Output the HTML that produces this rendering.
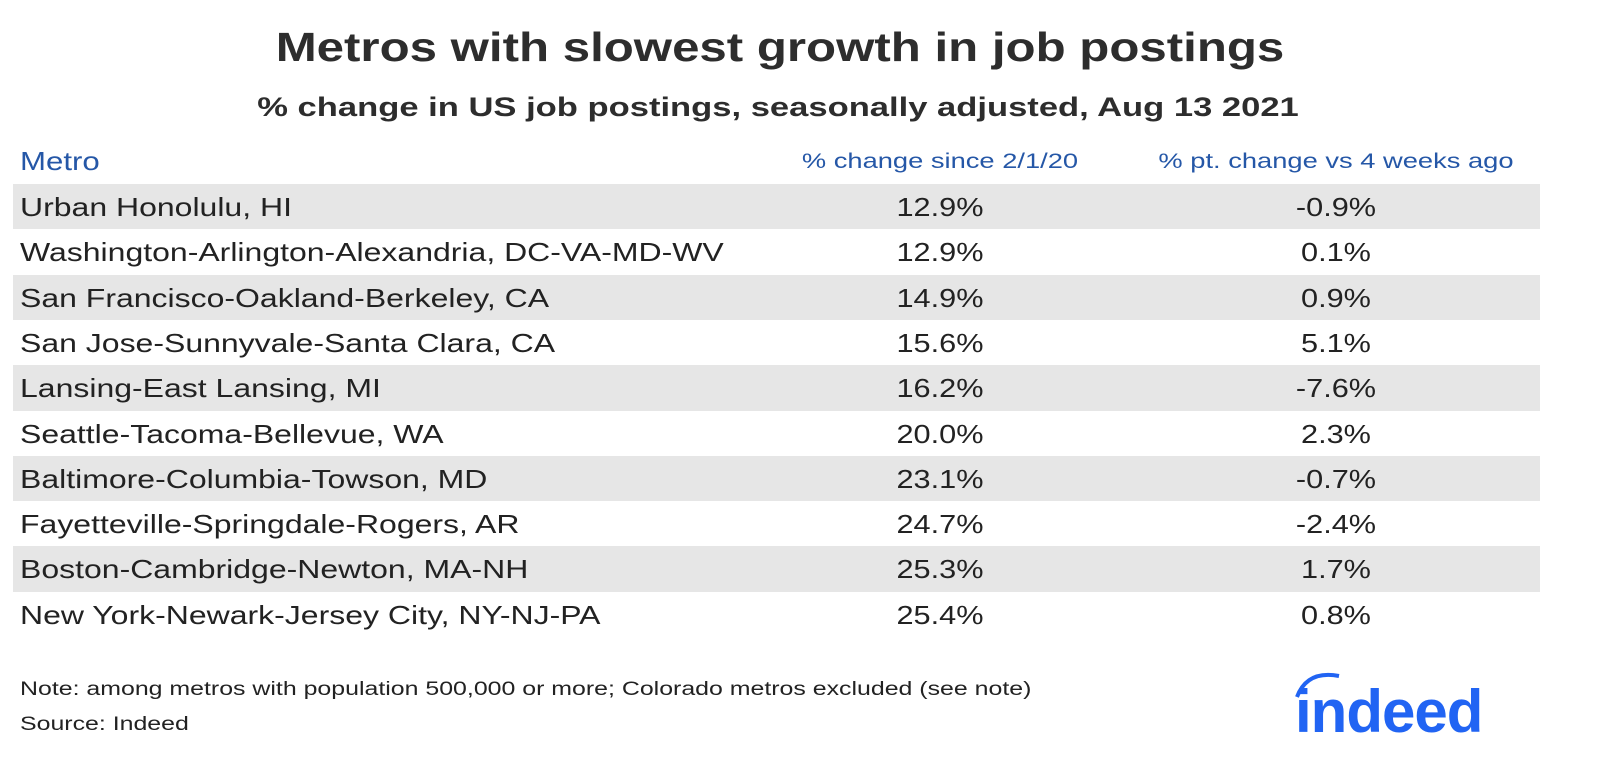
<!DOCTYPE html>
<html><head><meta charset="utf-8"><style>
body{margin:0;width:1600px;height:765px;background:#fff;font-family:"Liberation Sans",sans-serif;color:#222;position:relative;overflow:hidden}
.a{position:absolute;white-space:nowrap}
#title{left:-20px;width:1600px;text-align:center;top:24px;font-size:41px;font-weight:bold;color:#2d2d2d;transform:scaleX(1.2);transform-origin:800px 0}
#sub{left:-22px;width:1600px;text-align:center;top:92px;font-size:27px;font-weight:bold;color:#2d2d2d;transform:scaleX(1.28);transform-origin:800px 0}
.h{top:146px;color:#2557a7}
.row{position:absolute;left:13px;width:1527px;height:45.5px}
.c{position:absolute;top:8px;font-size:26px;white-space:nowrap}
.note{font-size:19px;color:#222;transform:scaleX(1.31);transform-origin:0 0}
</style></head><body>
<div class="a" id="title">Metros with slowest growth in job postings</div>
<div class="a" id="sub">% change in US job postings, seasonally adjusted, Aug 13 2021</div>
<div class="a h" style="left:20px;font-size:26px;transform:scaleX(1.2);transform-origin:0 0">Metro</div>
<div class="a h" style="left:800px;width:280px;text-align:center;font-size:21px;top:150px;transform:scaleX(1.3)">% change since 2/1/20</div>
<div class="a h" style="left:1160px;width:352px;text-align:center;font-size:21px;top:150px;transform:scaleX(1.3)">% pt. change vs 4 weeks ago</div>
<div id="table"></div>
<div class="a note" style="left:20px;top:679px">Note: among metros with population 500,000 or more; Colorado metros excluded (see note)</div>
<div class="a note" style="left:20px;top:714px">Source: Indeed</div>
<svg class="a" style="left:1295px;top:670px" width="200" height="75">
<path d="M2,27 Q12,0 44,6" stroke="#2164f3" stroke-width="4" fill="none"/>
<text x="0" y="62" font-family="Liberation Sans,sans-serif" font-weight="bold" font-size="60" fill="#2164f3" letter-spacing="-1">indeed</text>
</svg>
<script>
const metros=["Urban Honolulu, HI","Washington-Arlington-Alexandria, DC-VA-MD-WV","San Francisco-Oakland-Berkeley, CA","San Jose-Sunnyvale-Santa Clara, CA","Lansing-East Lansing, MI","Seattle-Tacoma-Bellevue, WA","Baltimore-Columbia-Towson, MD","Fayetteville-Springdale-Rogers, AR","Boston-Cambridge-Newton, MA-NH","New York-Newark-Jersey City, NY-NJ-PA"];
const changeSince=[12.9,12.9,14.9,15.6,16.2,20.0,23.1,24.7,25.3,25.4];
const ptChange=[-0.9,0.1,0.9,5.1,-7.6,2.3,-0.7,-2.4,1.7,0.8];
const t=document.getElementById('table');
metros.forEach((m,i)=>{
 const r=document.createElement('div');
 r.className='row';
 
 
 r.style.top=(184+i*45.3)+'px';
 r.style.background=i%2===0?'#e6e6e6':'#fff';
 const a=document.createElement('div');a.className='c';a.style.left='7px';a.textContent=m;
 a.style.transform='scaleX(1.23)';a.style.transformOrigin='0 0';
 
 
 const b=document.createElement('div');b.className='c';b.style.left='787px';b.style.width='280px';b.style.textAlign='center';b.textContent=changeSince[i].toFixed(1)+'%';
 b.style.transform='scaleX(1.18)';
 
 
 const c=document.createElement('div');c.className='c';c.style.left='1147px';c.style.width='352px';c.style.textAlign='center';c.textContent=ptChange[i].toFixed(1)+'%';
 c.style.transform='scaleX(1.18)';
 
 
 r.append(a,b,c);t.appendChild(r);
});
</script>
</body></html>
